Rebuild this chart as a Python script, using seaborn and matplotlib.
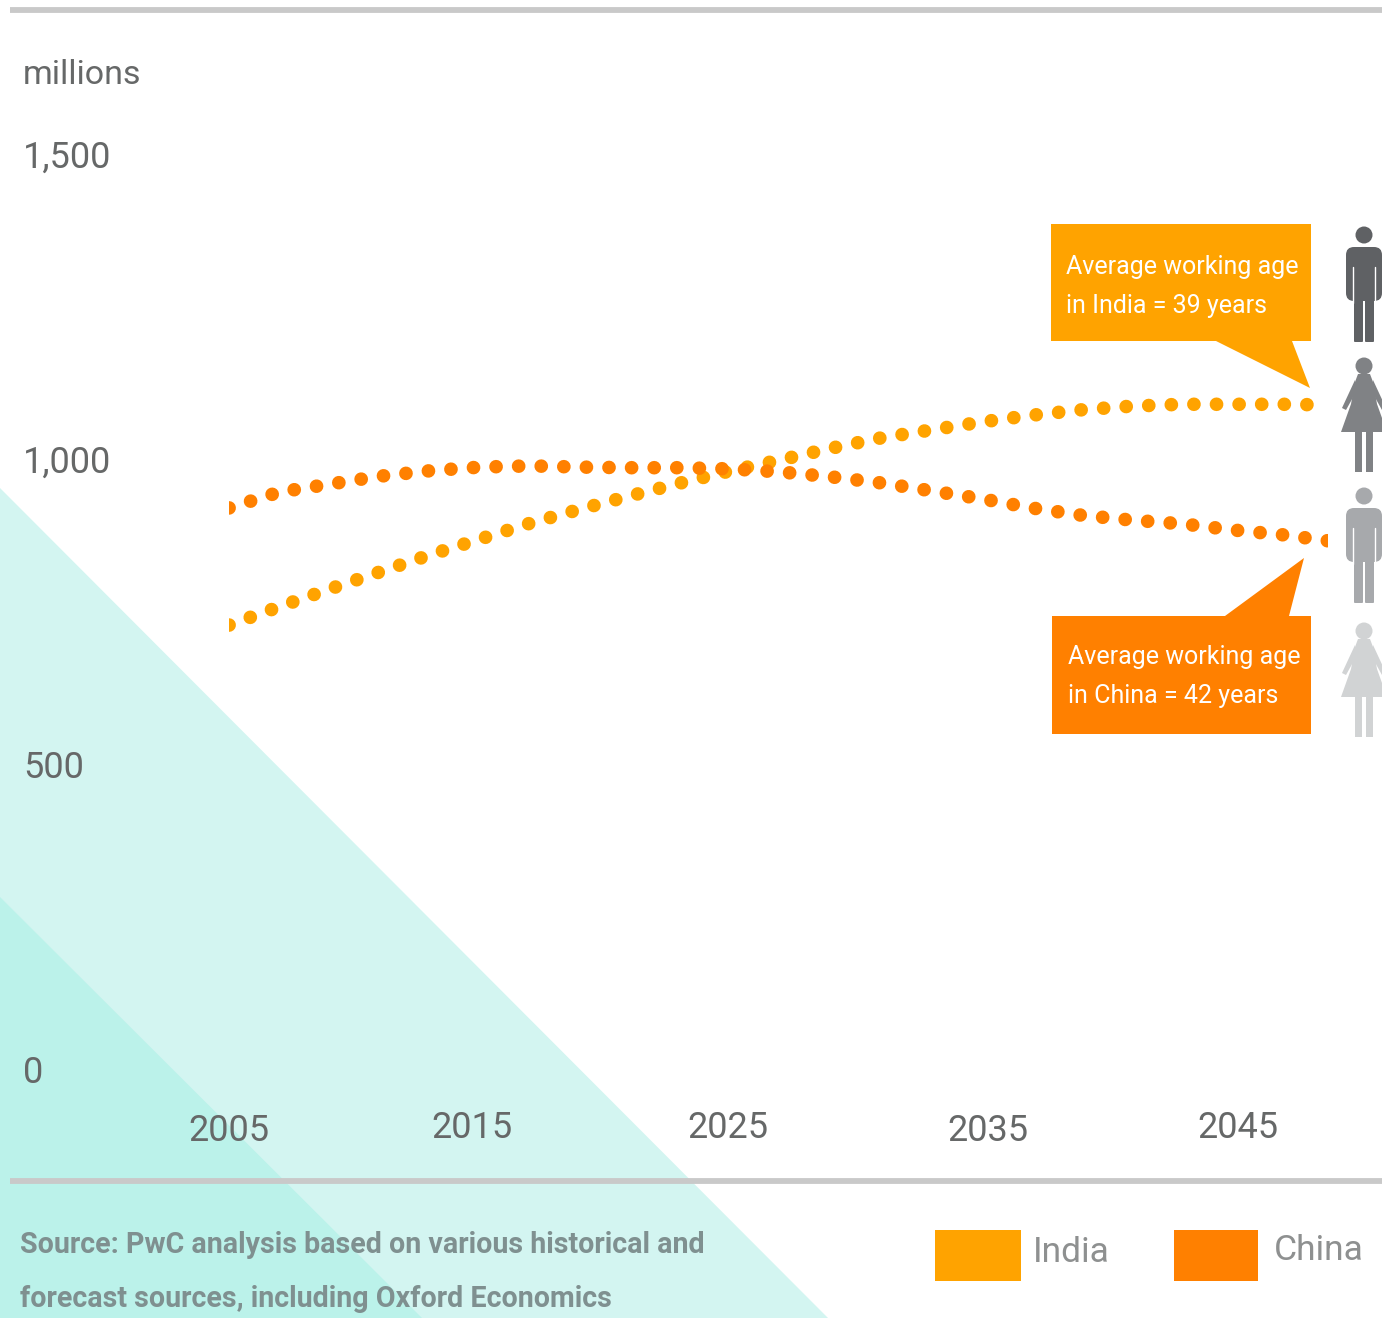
#!/usr/bin/python3

import seaborn as sns
import matplotlib.pyplot as plt
from matplotlib.patches import Polygon, Rectangle, Circle, FancyBboxPatch
from matplotlib.transforms import ScaledTranslation

years_india = [2005, 2007, 2009, 2011, 2013, 2015, 2017, 2019, 2021, 2023, 2025, 2027,
               2029, 2031, 2033, 2035, 2037, 2039, 2041, 2043, 2045, 2047, 2048.6]
india = [731, 761, 790, 818, 846, 872, 898, 921, 943, 964, 984, 1002,
         1021, 1038, 1051, 1064, 1075, 1084, 1090, 1093, 1093, 1093, 1092]

years_china = [2005, 2007, 2009, 2011, 2013, 2015, 2017, 2019, 2021, 2023, 2025, 2027,
               2029, 2031, 2033, 2035, 2037, 2039, 2041, 2043, 2045, 2047, 2049.2]
china = [923, 949, 962, 975, 984, 990, 992, 990, 989, 989, 987, 982,
         974, 964, 951, 938, 923, 911, 903, 897, 887, 879, 867]

year_ticks = [2005, 2015, 2025, 2035, 2045]
value_ticks = [0, 500, 1000, 1500]
value_labels = ['0', '500', '1,000', '1,500']

sns.set_theme(style='white')
plt.rcParams['font.family'] = ['Roboto', 'DejaVu Sans']

INDIA_COL = '#ffa300'
CHINA_COL = '#ff8000'
TEXT_COL = '#666868'

W, H = 1382, 1318
fig = plt.figure(figsize=(W / 100, H / 100), dpi=100, facecolor='white')

# overlay in picture pixels for the decoration
bg = fig.add_axes([0, 0, 1, 1], zorder=0)
bg.set_xlim(0, W)
bg.set_ylim(H, 0)
bg.axis('off')

bg.add_patch(Polygon([(0, 488), (828, H), (0, H)], fc='#d3f5f1', ec='none'))
bg.add_patch(Polygon([(0, 897), (422, H), (0, H)], fc='#bbf2ea', ec='none'))
bg.plot([10, W], [10, 10], color='#c9c9c9', lw=4.2, solid_capstyle='butt')
bg.plot([10, W], [1181, 1181], color='#c9c9c9', lw=4.2, solid_capstyle='butt')


def man(cx, top, col):
    bg.add_patch(Circle((cx, top + 10), 8.5, fc=col, ec='none'))
    bg.add_patch(FancyBboxPatch((cx - 14, top + 26), 28, 46, boxstyle='round,pad=4,rounding_size=8', fc=col, ec='none'))
    bg.add_patch(FancyBboxPatch((cx - 9, top + 70), 7, 46, boxstyle='round,pad=1,rounding_size=1', fc=col, ec='none'))
    bg.add_patch(FancyBboxPatch((cx + 2, top + 70), 7, 46, boxstyle='round,pad=1,rounding_size=1', fc=col, ec='none'))
    bg.plot([cx - 11, cx - 11], [top + 42, top + 78], color='white', lw=1)
    bg.plot([cx + 11, cx + 11], [top + 42, top + 78], color='white', lw=1)


def woman(cx, top, col):
    bg.add_patch(Circle((cx, top + 10), 8.5, fc=col, ec='none'))
    dress = [(cx - 6, top + 18), (cx + 6, top + 18), (cx + 9, top + 26), (cx + 13, top + 48),
             (cx + 23, top + 76), (cx - 23, top + 76), (cx - 13, top + 48), (cx - 9, top + 26)]
    bg.add_patch(Polygon(dress, fc=col, ec='none'))
    arms = [(cx - 9, top + 24), (cx - 22, top + 52), (cx - 18, top + 54), (cx - 8, top + 36)]
    bg.add_patch(Polygon(arms, fc=col, ec='none'))
    bg.add_patch(Polygon([(2 * cx - x, y) for x, y in arms], fc=col, ec='none'))
    bg.add_patch(Rectangle((cx - 9, top + 76), 7, 40, fc=col, ec='none'))
    bg.add_patch(Rectangle((cx + 2, top + 76), 7, 40, fc=col, ec='none'))


man(1364, 225, '#5f6164')
woman(1364, 356, '#808285')
man(1364, 486, '#a7a9ac')
woman(1364, 621, '#d1d3d4')

# callouts
bg.add_patch(Polygon([(1051, 224), (1311, 224), (1311, 341), (1292, 341), (1310, 388),
                      (1216, 341), (1051, 341)], fc=INDIA_COL, ec='none'))
bg.add_patch(Polygon([(1052, 616), (1225, 616), (1304, 558), (1289, 616), (1311, 616),
                      (1311, 734), (1052, 734)], fc=CHINA_COL, ec='none'))
bg.text(1066, 267, 'Average working age', color='white', fontsize=18, va='center')
bg.text(1066, 306, 'in India = 39 years', color='white', fontsize=18, va='center')
bg.text(1068, 657, 'Average working age', color='white', fontsize=18, va='center')
bg.text(1068, 696, 'in China = 42 years', color='white', fontsize=18, va='center')

bg.text(23, 75, 'millions', color=TEXT_COL, fontsize=24.5, va='center')

# legend and source
bg.add_patch(Rectangle((935, 1230), 86, 51, fc=INDIA_COL, ec='none'))
bg.add_patch(Rectangle((1174, 1230), 84, 51, fc=CHINA_COL, ec='none'))
bg.text(1033, 1253, 'India', color='#8e9090', fontsize=25.5, va='center')
bg.text(1274, 1250, 'China', color='#8e9090', fontsize=25.5, va='center')
bg.text(20, 1245, 'Source: PwC analysis based on various historical and', color='#7f9090',
        fontsize=20.6, fontweight='bold', va='center')
bg.text(20, 1299, 'forecast sources, including Oxford Economics', color='#7f9090',
        fontsize=20.6, fontweight='bold', va='center')

# chart, axes span 2005 to the clipped end of the China line
ax = fig.add_axes([229 / W, 1 - 1071 / H, 1099 / W, 915 / H], zorder=1)
ax.patch.set_alpha(0)
dots = (0, (0.01, 1.65))
sns.lineplot(x=years_india, y=india, ax=ax, color=INDIA_COL, lw=9.8, linestyle=dots,
             dash_capstyle='round', sort=False, errorbar=None)
sns.lineplot(x=years_china, y=china, ax=ax, color=CHINA_COL, lw=9.8, linestyle=dots,
             dash_capstyle='round', sort=False, errorbar=None)
ax.set_xlim(2005, 2048.8)
ax.set_ylim(0, 1500)
sns.despine(ax=ax, left=True, bottom=True)

ax.set_yticks(value_ticks, value_labels)
ax.set_xticks(year_ticks, [str(y) for y in year_ticks])
ax.tick_params(axis='y', length=0, pad=148.2, labelsize=26, labelcolor=TEXT_COL)
ax.tick_params(axis='x', length=0, pad=30, labelsize=26, labelcolor=TEXT_COL)
for label in ax.get_yticklabels():
    label.set_ha('left')
    label.set_transform(label.get_transform() + ScaledTranslation(0, 0.02, fig.dpi_scale_trans))

# the year labels sit a little unevenly in the original
nudges = [(0, 0), (-8, 3), (-3, 3), (6, 0), (5, 3)]
for label, (dx, dy) in zip(ax.get_xticklabels(), nudges):
    label.set_transform(label.get_transform() + ScaledTranslation(dx / 100, dy / 100, fig.dpi_scale_trans))

plt.savefig('out.png', dpi=100)
